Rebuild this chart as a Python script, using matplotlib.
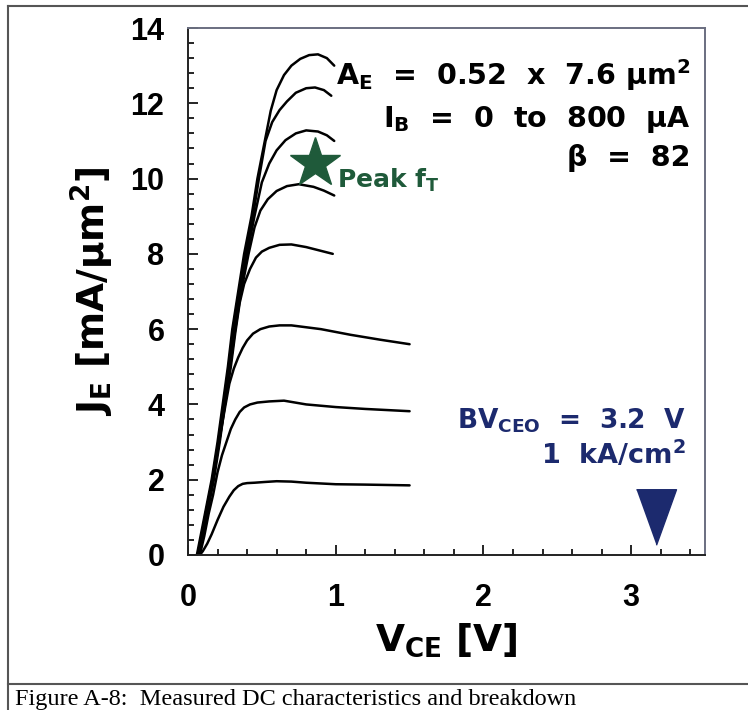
import matplotlib
matplotlib.use('Agg')
import matplotlib.pyplot as plt
from matplotlib.lines import Line2D
from matplotlib.ticker import MultipleLocator

# measured J_E vs V_CE curves, one per base current step
v1 = [0.08, 0.10, 0.13, 0.16, 0.20, 0.24, 0.28, 0.31, 0.34, 0.37, 0.40, 0.45, 0.52, 0.60, 0.70, 0.80, 1.00, 1.20, 1.50]
j1 = [0.0, 0.10, 0.30, 0.55, 0.93, 1.28, 1.55, 1.72, 1.83, 1.89, 1.91, 1.92, 1.94, 1.96, 1.95, 1.92, 1.88, 1.87, 1.85]

v2 = [0.08, 0.11, 0.14, 0.17, 0.20, 0.23, 0.26, 0.29, 0.32, 0.35, 0.38, 0.42, 0.47, 0.55, 0.65, 0.80, 1.00, 1.20, 1.50]
j2 = [0.0, 0.50, 1.10, 1.60, 2.20, 2.65, 3.00, 3.35, 3.60, 3.80, 3.92, 4.00, 4.05, 4.08, 4.10, 4.00, 3.93, 3.88, 3.82]

v3 = [0.07, 0.12, 0.17, 0.21, 0.25, 0.28, 0.31, 0.34, 0.37, 0.40, 0.44, 0.49, 0.55, 0.62, 0.70, 0.90, 1.10, 1.30, 1.50]
j3 = [0.0, 1.10, 2.10, 3.00, 3.90, 4.55, 4.95, 5.25, 5.50, 5.70, 5.88, 6.00, 6.07, 6.10, 6.10, 6.00, 5.85, 5.72, 5.60]

v4 = [0.07, 0.12, 0.17, 0.21, 0.25, 0.29, 0.32, 0.35, 0.38, 0.42, 0.46, 0.50, 0.55, 0.62, 0.70, 0.80, 0.90, 0.98]
j4 = [0.0, 1.00, 2.00, 3.00, 4.00, 5.00, 5.90, 6.70, 7.20, 7.60, 7.90, 8.06, 8.16, 8.24, 8.25, 8.18, 8.08, 8.00]

v5 = [0.075, 0.125, 0.175, 0.215, 0.25, 0.285, 0.32, 0.36, 0.41, 0.45, 0.49, 0.54, 0.60, 0.67, 0.75, 0.85, 0.92, 0.99]
j5 = [0.0, 1.00, 2.00, 3.00, 4.00, 5.00, 6.00, 7.00, 8.00, 8.70, 9.15, 9.45, 9.67, 9.80, 9.85, 9.78, 9.68, 9.55]

v6 = [0.07, 0.12, 0.17, 0.21, 0.245, 0.28, 0.315, 0.355, 0.40, 0.45, 0.50, 0.55, 0.60, 0.66, 0.73, 0.80, 0.88, 0.94, 0.99]
j6 = [0.0, 1.00, 2.00, 3.00, 4.00, 5.00, 6.00, 7.00, 8.00, 9.00, 9.90, 10.4, 10.75, 11.02, 11.2, 11.28, 11.25, 11.15, 11.0]

v7 = [0.065, 0.115, 0.165, 0.205, 0.24, 0.275, 0.305, 0.345, 0.39, 0.44, 0.48, 0.525, 0.57, 0.62, 0.67, 0.73, 0.80, 0.86, 0.92, 0.97]
j7 = [0.0, 1.00, 2.00, 3.00, 4.00, 5.00, 6.00, 7.00, 8.00, 9.00, 10.0, 11.0, 11.5, 11.82, 12.05, 12.28, 12.4, 12.42, 12.35, 12.2]

v8 = [0.06, 0.11, 0.16, 0.20, 0.235, 0.27, 0.30, 0.34, 0.38, 0.43, 0.47, 0.52, 0.56, 0.60, 0.65, 0.70, 0.76, 0.82, 0.88, 0.94, 0.99]
j8 = [0.0, 1.00, 2.00, 3.00, 4.00, 5.00, 6.00, 7.00, 8.00, 9.00, 10.0, 11.0, 11.8, 12.35, 12.75, 13.0, 13.18, 13.28, 13.3, 13.2, 13.0]

curves = [(v1, j1), (v2, j2), (v3, j3), (v4, j4), (v5, j5), (v6, j6), (v7, j7), (v8, j8)]

peak_ft = (0.86, 10.42)
bv_ceo = (3.17, 1.0)

x_ticks = [0, 1, 2, 3]
y_ticks = [0, 2, 4, 6, 8, 10, 12, 14]

green = '#1f5a3a'
navy = '#1c2a6e'

fig = plt.figure(figsize=(7.48, 7.10), dpi=100)
ax = fig.add_axes([188 / 748, 1 - 555 / 710, 517 / 748, 527 / 710])

for v, j in curves:
    ax.plot(v, j, color='black', lw=1.8, solid_joinstyle='round', solid_capstyle='round')

ax.plot(*peak_ft, marker='*', ms=38, color=green, mec=green)
tri = [(-0.72, 1), (0.72, 1), (0, -1)]
ax.plot(*bv_ceo, marker=tri, ms=40, color=navy, mec=navy)

ax.set_xlim(0, 3.5)
ax.set_ylim(0, 14)
ax.set_xticks(x_ticks)
ax.set_yticks(y_ticks)
ax.xaxis.set_minor_locator(MultipleLocator(0.2))
ax.yaxis.set_minor_locator(MultipleLocator(0.4))
ax.tick_params(which='both', direction='in', top=False, right=False, width=1.2)
ax.tick_params(which='major', length=7)
ax.tick_params(which='minor', length=4)

tick_font = dict(family='Liberation Sans', weight='bold', size=22)
ax.set_xticklabels([str(t) for t in x_ticks], **tick_font)
ax.set_yticklabels([str(t) for t in y_ticks], **tick_font)
ax.tick_params(axis='x', which='major', pad=20)
ax.tick_params(axis='y', which='major', pad=17)

for s in ['left', 'bottom']:
    ax.spines[s].set_color('#222222')
    ax.spines[s].set_linewidth(1.4)
for s in ['top', 'right']:
    ax.spines[s].set_color('#6a6e80')
    ax.spines[s].set_linewidth(1.4)

lab_font = dict(family='DejaVu Sans', weight='bold', size=27)
ax.set_ylabel(r'J$_\mathregular{E}$ [mA/μm$^\mathregular{2}$]', labelpad=10, **lab_font)
ax.set_xlabel(r'V$_\mathregular{CE}$ [V]', labelpad=6, **lab_font)

txt = dict(weight='bold', size=20.5, ha='right', va='center', family='DejaVu Sans')
ax.text(3.40, 12.75, r'A$_\mathregular{E}$  =  0.52  x  7.6 μm$^\mathregular{2}$', **txt)
ax.text(3.40, 11.58, r'I$_\mathregular{B}$  =  0  to  800  μA', **txt)
ax.text(3.40, 10.55, 'β  =  82', **txt)
ax.text(1.01, 9.95, r'Peak f$_\mathregular{T}$', color=green, weight='bold', size=18,
        ha='left', va='center', family='DejaVu Sans')
ax.text(3.37, 3.57, r'BV$_\mathregular{CEO}$  =  3.2  V', color=navy, weight='bold', size=19,
        ha='right', va='center', family='DejaVu Sans')
ax.text(3.37, 2.65, '1  kA/cm$^\mathregular{2}$', color=navy, weight='bold', size=19.5,
        ha='right', va='center', family='DejaVu Sans')

# scanned page frame and caption
fc = '#555555'
fig.add_artist(Line2D([8 / 748, 8 / 748], [0, 1 - 6 / 710], color=fc, lw=1.5))
fig.add_artist(Line2D([8 / 748, 1], [1 - 6 / 710, 1 - 6 / 710], color=fc, lw=1.5))
fig.add_artist(Line2D([8 / 748, 1], [1 - 684 / 710, 1 - 684 / 710], color=fc, lw=1.5))
fig.text(15 / 748, 1 - 700 / 710, 'Figure A-8:  Measured DC characteristics and breakdown',
         family='Liberation Serif', size=17.5, ha='left', va='center')

fig.savefig('out.png', dpi=100)
